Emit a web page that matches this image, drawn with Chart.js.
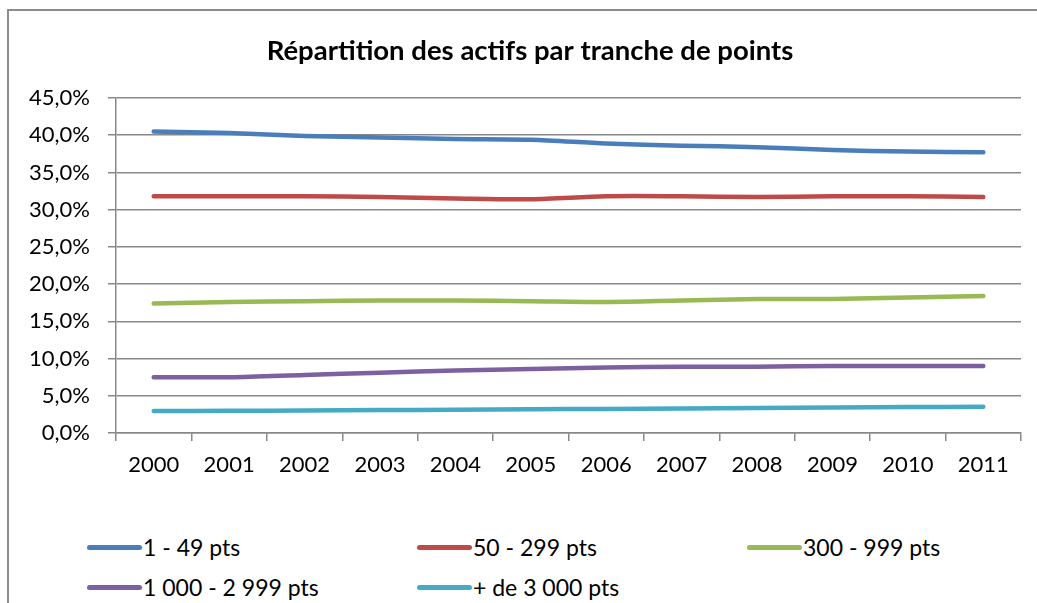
<!DOCTYPE html>
<html lang="fr">
<head>
<meta charset="utf-8">
<title>Répartition des actifs par tranche de points</title>
<script src="https://cdn.jsdelivr.net/npm/chart.js@4"></script>
<style>
  body { margin: 0; background: #fff; overflow: hidden; font-family: Lato, "Open Sans", sans-serif; }
  #frame {
    position: absolute; left: 7px; top: 9px; width: 1100px; height: 700px;
    border-left: 2px solid #8c8c8c; border-top: 2px solid #8c8c8c;
  }
  #box { position: relative; width: 1042px; height: 470px; }
  #legend {
    position: absolute; left: 78px; top: 516px;
    display: grid; grid-template-columns: 330px 330px 330px; grid-auto-rows: 40px;
  }
  .item { display: flex; align-items: center; font-size: 23px; color: #000; }
  .item span.swatch { width: 55px; height: 5px; border-radius: 3px; margin-right: 1px; }
</style>
</head>
<body>
<div id="frame">
  <div id="box"><canvas id="chart"></canvas></div>
  <div id="legend"></div>
</div>
<script>
const years = ['2000', '2001', '2002', '2003', '2004', '2005', '2006', '2007', '2008', '2009', '2010', '2011']
const seriesNames = ['1 - 49 pts', '50 - 299 pts', '300 - 999 pts', '1 000 - 2 999 pts', '+ de 3 000 pts']
const pts1to49 = [40.5, 40.3, 39.9, 39.7, 39.5, 39.4, 38.9, 38.6, 38.4, 38.0, 37.8, 37.7]
const pts50to299 = [31.8, 31.8, 31.8, 31.7, 31.5, 31.4, 31.8, 31.8, 31.7, 31.8, 31.8, 31.7]
const pts300to999 = [17.4, 17.6, 17.7, 17.8, 17.8, 17.7, 17.6, 17.8, 18.0, 18.0, 18.2, 18.4]
const pts1000to2999 = [7.5, 7.5, 7.8, 8.1, 8.4, 8.6, 8.8, 8.9, 8.9, 9.0, 9.0, 9.0]
const pts3000plus = [2.95, 2.98, 3.03, 3.08, 3.13, 3.18, 3.24, 3.3, 3.36, 3.42, 3.48, 3.53]
const seriesColors = ['#4a7ebb', '#be4b48', '#98b954', '#7d60a0', '#46aac5']

const gridColor = '#888888'
const tickFont = { family: 'Lato', size: 22 }
const formatPct = (v) => v.toFixed(1).replace('.', ',') + '%'

const datasets = [pts1to49, pts50to299, pts300to999, pts1000to2999, pts3000plus].map((values, i) => ({
  label: seriesNames[i],
  data: values,
  borderColor: seriesColors[i],
  backgroundColor: seriesColors[i],
  borderWidth: 4.5,
  borderCapStyle: 'round',
  pointRadius: 0,
  tension: 0.3,
  fill: false
}))

const chart = new Chart(document.getElementById('chart'), {
  type: 'line',
  data: { labels: years, datasets },
  options: {
    responsive: true,
    maintainAspectRatio: false,
    animation: false,
    layout: { padding: 0 },
    plugins: {
      legend: { display: false },
      tooltip: { enabled: false },
      title: {
        display: true,
        text: 'Répartition des actifs par tranche de points',
        color: '#000',
        font: { family: 'Lato', size: 27.5, weight: 'bold', lineHeight: 1.2 },
        padding: { top: 24, bottom: 30 }
      }
    },
    scales: {
      x: {
        offset: true,
        grid: { offset: true, drawOnChartArea: false, drawTicks: true, tickLength: 8, color: gridColor, lineWidth: 1.5 },
        border: { display: true, color: gridColor, width: 1.5 },
        ticks: { color: '#000', font: tickFont, padding: 11, maxRotation: 0 },
        afterFit: (scale) => { scale.height = 48 }
      },
      y: {
        min: 0,
        max: 45,
        grid: { color: gridColor, lineWidth: 1.5, tickLength: 8 },
        border: { display: true, color: gridColor, width: 1.5 },
        ticks: { stepSize: 5, color: '#000', font: tickFont, padding: 18, callback: (v) => formatPct(v) },
        afterFit: (scale) => { scale.width = 107 }
      },
      // empty right margin so the title is centred on the whole frame
      spacer: {
        type: 'linear',
        position: 'right',
        grid: { display: false },
        border: { display: false },
        ticks: { display: false },
        afterFit: (scale) => { scale.width = 30 }
      }
    }
  }
})

const legend = document.getElementById('legend')
chart.data.datasets.forEach((ds) => {
  const item = document.createElement('div')
  item.className = 'item'
  const sw = document.createElement('span')
  sw.className = 'swatch'
  sw.style.background = ds.borderColor
  const txt = document.createElement('span')
  txt.textContent = ds.label
  item.append(sw, txt)
  legend.appendChild(item)
})
</script>
</body>
</html>
